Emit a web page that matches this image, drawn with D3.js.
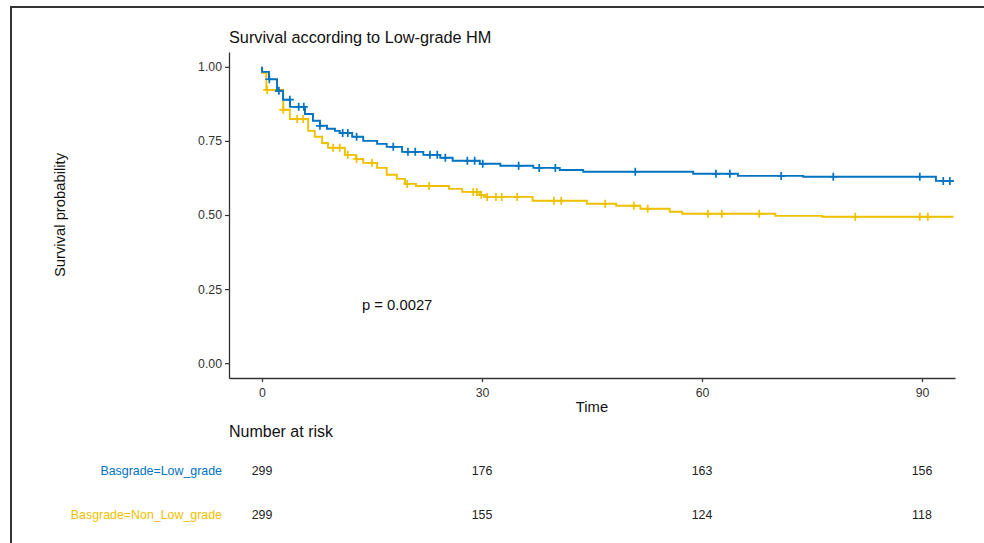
<!DOCTYPE html>
<html>
<head>
<meta charset="utf-8">
<script src="https://cdn.jsdelivr.net/npm/d3@7"></script>
<style>
  body { margin: 0; background: #fff; }
  svg text { font-family: "Liberation Sans", Arial, sans-serif; }
</style>
</head>
<body>
<svg id="chart" width="984" height="543"></svg>
<script>
// survival steps: time of each drop and the new survival level
const lowTimes = [0, 0.95, 2.05, 2.86, 3.82, 5.86, 6.95, 7.9, 8.86, 9.95, 10.6, 12.3, 13.8, 15.7, 17.0, 19.1, 22.0, 24.3, 26.0, 29.7, 32.5, 37.0, 40.6, 43.8, 58.8, 64.9, 73.8, 91.9]
const lowSurv  = [0.983, 0.958, 0.919, 0.889, 0.865, 0.841, 0.818, 0.801, 0.791, 0.784, 0.777, 0.764, 0.750, 0.740, 0.730, 0.713, 0.703, 0.693, 0.683, 0.673, 0.666, 0.659, 0.652, 0.646, 0.639, 0.632, 0.629, 0.615]
const lowCensor = [1.0, 2.3, 3.8, 5.0, 5.7, 7.9, 11.0, 11.7, 12.9, 17.9, 19.9, 20.9, 22.9, 23.9, 25.0, 28.0, 29.0, 30.1, 35.0, 37.8, 40.0, 50.9, 61.9, 63.8, 70.8, 77.9, 89.7, 92.9, 93.8]

const nonTimes = [0, 0.6, 2.9, 3.8, 6.3, 7.2, 8.2, 9.0, 11.3, 12.8, 13.8, 15.7, 17.0, 18.4, 19.5, 21.0, 25.5, 27.3, 29.7, 30.4, 36.9, 44.3, 48.3, 51.6, 55.6, 57.3, 70.0, 76.4]
const nonSurv  = [0.980, 0.922, 0.855, 0.824, 0.784, 0.764, 0.743, 0.727, 0.703, 0.689, 0.676, 0.659, 0.636, 0.622, 0.605, 0.598, 0.588, 0.578, 0.568, 0.561, 0.548, 0.538, 0.531, 0.521, 0.511, 0.504, 0.497, 0.494]
const nonCensor = [0.7, 2.9, 4.8, 5.6, 9.7, 10.6, 11.7, 12.9, 15.0, 19.8, 22.8, 28.8, 29.3, 29.9, 30.7, 31.9, 32.7, 34.8, 39.8, 40.8, 46.8, 50.7, 52.6, 60.8, 62.7, 67.8, 80.9, 89.7, 90.8]

const endTime = 94.3
const groups = ["Basgrade=Low_grade", "Basgrade=Non_Low_grade"]
const colors = ["#0073C2", "#EFC000"]
const xTicks = [0, 30, 60, 90]
const yTicks = [0, 0.25, 0.5, 0.75, 1]
const riskLow = [299, 176, 163, 156]
const riskNon = [299, 155, 124, 118]
const pLabel = "p = 0.0027"

const svg = d3.select("#chart")

// outer frame (cut off right and bottom)
svg.append("path")
    .attr("d", "M11,543 L11,7 L984,7")
    .attr("fill", "none")
    .attr("stroke", "#333")
    .attr("stroke-width", 2)

const x = d3.scaleLinear().domain([-4.5, 94.5]).range([229, 955])
const y = d3.scaleLinear().domain([-0.05, 1.05]).range([378, 52])

// axes
const xAxis = svg.append("g").attr("transform", "translate(0,378)")
    .call(d3.axisBottom(x).tickValues(xTicks).tickSize(4).tickPadding(3).tickSizeOuter(0))
const yAxis = svg.append("g").attr("transform", "translate(229,0)")
    .call(d3.axisLeft(y).tickValues(yTicks).tickFormat(d3.format(".2f")).tickSize(4).tickPadding(3).tickSizeOuter(0))
;[xAxis, yAxis].forEach(g => {
    g.select(".domain").attr("stroke", "#333").attr("stroke-width", 1.3)
    g.selectAll(".tick line").attr("stroke", "#333").attr("stroke-width", 1.2)
    g.selectAll(".tick text").attr("fill", "#333").style("font-size", "12.3px")
        .style("font-family", "'Liberation Sans', Arial, sans-serif")
})
xAxis.selectAll(".tick text").attr("dy", "0.95em")

// curves
const line = d3.line().x(d => x(d[0])).y(d => y(d[1])).curve(d3.curveStepAfter)

function survAt(times, surv, t) {
    let s = 1
    times.forEach((tt, i) => { if (tt <= t) s = surv[i] })
    return s
}

const series = [
    { times: lowTimes, surv: lowSurv, censor: lowCensor, color: colors[0] },
    { times: nonTimes, surv: nonSurv, censor: nonCensor, color: colors[1] },
]

// draw yellow first so blue sits on top
series.slice().reverse().forEach(s => {
    let pts = [[0, 1]]
    s.times.forEach((t, i) => pts.push([t, s.surv[i]]))
    pts.push([endTime, s.surv[s.surv.length - 1]])
    svg.append("path")
        .attr("d", line(pts))
        .attr("fill", "none")
        .attr("stroke", s.color)
        .attr("stroke-width", 1.9)

    svg.append("g").selectAll("path")
        .data(s.censor)
        .enter()
        .append("path")
        .attr("d", t => {
            let cx = x(t), cy = y(survAt(s.times, s.surv, t))
            return `M${cx - 4},${cy} H${cx + 4} M${cx},${cy - 4} V${cy + 4}`
        })
        .attr("stroke", s.color)
        .attr("stroke-width", 1.7)
})

// title, labels
svg.append("text").attr("x", 229).attr("y", 43)
    .style("font-size", "16.3px").attr("fill", "#111")
    .text("Survival according to Low-grade HM")

svg.append("text").attr("x", x(45)).attr("y", 412)
    .attr("text-anchor", "middle").style("font-size", "14.8px").attr("fill", "#111")
    .text("Time")

svg.append("text")
    .attr("transform", "translate(65,215) rotate(-90)")
    .attr("text-anchor", "middle").style("font-size", "14.8px").attr("fill", "#111")
    .text("Survival probability")

svg.append("text").attr("x", 362).attr("y", 310)
    .style("font-size", "14.8px").attr("fill", "#111")
    .text(pLabel)

// risk table
svg.append("text").attr("x", 229).attr("y", 437)
    .style("font-size", "16px").attr("fill", "#111")
    .text("Number at risk")

const rowY = [475, 519]
;[riskLow, riskNon].forEach((row, r) => {
    svg.append("text").attr("x", 222).attr("y", rowY[r])
        .attr("text-anchor", "end").style("font-size", "12.4px")
        .attr("fill", colors[r])
        .text(groups[r])
    svg.append("g").selectAll("text")
        .data(row)
        .enter()
        .append("text")
        .attr("x", (d, i) => x(xTicks[i]))
        .attr("y", rowY[r])
        .attr("text-anchor", "middle")
        .style("font-size", "12.4px")
        .attr("fill", "#222")
        .text(d => d)
})
</script>
</body>
</html>
